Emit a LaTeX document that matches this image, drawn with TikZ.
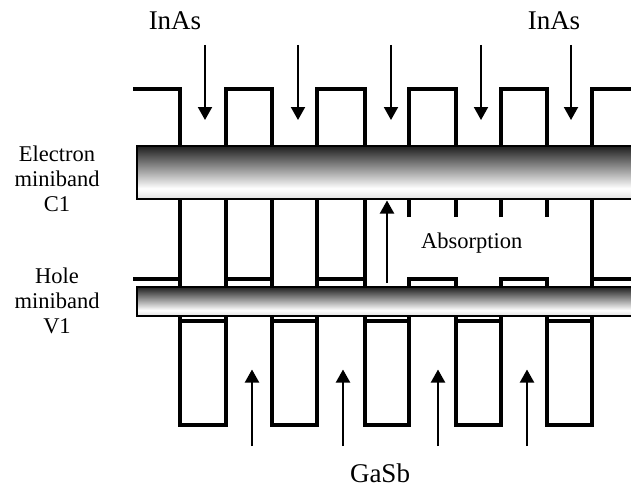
\documentclass[tikz,border=0pt]{standalone}
\usepackage{fontspec}
\setmainfont{Liberation Serif}
\usetikzlibrary{arrows.meta}
\pgfdeclareverticalshading{bandshade}{100bp}{color(0bp)=(black!12); color(25bp)=(black!12); color(35bp)=(white); color(75bp)=(black!88); color(100bp)=(black!88)}
\tikzset{
  wall/.style={line width=3.2pt, line join=miter},
  bandfill/.style={shading=bandshade},
  bandedge/.style={line width=1.8pt},
  arr/.style={line width=2pt, -{Triangle[length=13pt,width=14pt]}},
  big/.style={font=\fontsize{27}{30}\selectfont, inner sep=0pt},
  lab/.style={font=\fontsize{22.5}{25}\selectfont, inner sep=0pt, align=center},
}
\begin{document}
\begin{tikzpicture}[x=1pt,y=-1pt]
\useasboundingbox[fill=white] (0,0) rectangle (631,487);

% band profile: outer square wave
\draw[wall] (133,89) -| (180,425) -| (226,89) -| (272,425) -| (317,89) -| (365,425)
  -| (409,279) -| (456,425) -| (501,279) -| (547,425) -| (592,89) -- (640,89);
% upper stubs next to the absorption label
\draw[wall] (409,217) |- (456,89) -- (456,217);
\draw[wall] (501,217) |- (547,89) -- (547,217);
% GaSb valence band edges
\draw[wall] (133,279) -- (180,279);
\draw[wall] (226,279) -- (272,279);
\draw[wall] (317,279) -- (365,279);
\draw[wall] (592,279) -- (640,279);
% InAs edges below the hole miniband
\draw[wall] (180,321) -- (226,321);
\draw[wall] (272,321) -- (317,321);
\draw[wall] (365,321) -- (409,321);
\draw[wall] (456,321) -- (501,321);
\draw[wall] (547,321) -- (592,321);

% minibands
\shade[bandfill] (137,146) rectangle (640,199);
\draw[bandedge] (640,146) -- (137,146) -- (137,199) -- (640,199);
\coordinate (c1) at (387,200.5);
\shade[bandfill] (137,287) rectangle (640,316);
\draw[bandedge] (640,287) -- (137,287) -- (137,316) -- (640,316);
\coordinate (v1) at (387,283);

% absorption arrow
\draw[arr] (v1) -- (c1);

% InAs arrows
\foreach \x [count=\i] in {205,298,391,481,571}{
  \coordinate (ta\i) at (\x,45);
  \coordinate (tb\i) at (\x,120);
  \draw[arr] (ta\i) -- (tb\i);
}
% GaSb arrows
\foreach \x [count=\i] in {252,343,438,527}{
  \coordinate (ba\i) at (\x,446);
  \coordinate (bb\i) at (\x,369.5);
  \draw[arr] (ba\i) -- (bb\i);
}

% labels
\node[big, anchor=base] (inasL) at (175,30) {InAs};
\node[big, anchor=base] (inasR) at (554,30) {InAs};
\node[big, anchor=base] (gasb) at (380,482) {GaSb};
\node[lab] (elab) at (57,179) {Electron\\miniband\\C1};
\node[lab] (hlab) at (57,300.5) {Hole\\miniband\\V1};
\node[lab, anchor=base] (abs) at (471.7,248.3) {Absorption};
\end{tikzpicture}
\end{document}
